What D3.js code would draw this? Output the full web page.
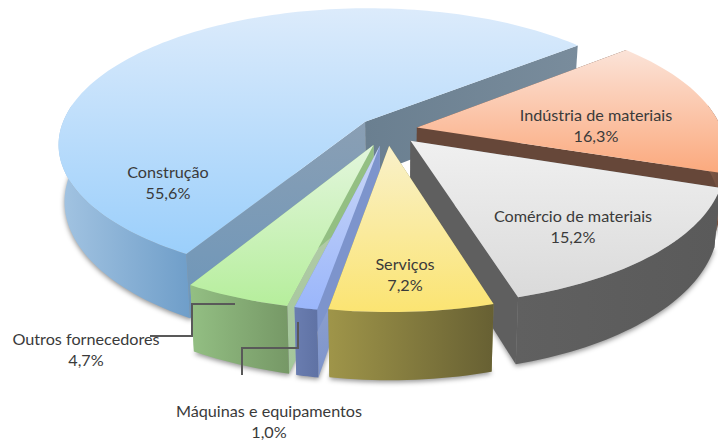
<!DOCTYPE html>
<html>
<head>
<meta charset="utf-8">
<script src="https://cdn.jsdelivr.net/npm/d3@7"></script>
<style>
  html, body { margin: 0; padding: 0; background: #fff; overflow: hidden; }
  text { font-family: Lato, "Open Sans", sans-serif; font-size: 16.2px; fill: #3a3a3a; text-anchor: middle; }
</style>
</head>
<body>
<div id="chart"></div>
<script>
// drawn clockwise starting from the orange slice
const categories = ["Indústria de materiais", "Comércio de materiais", "Serviços", "Máquinas e equipamentos", "Outros fornecedores", "Construção"];
const shares = [16.3, 15.2, 7.2, 1.0, 4.7, 55.6];
const explode = [0.10, 0.11, 0.115, 0.118, 0.118, 0.095];

const topColours = [["#fbe3d8", "#fba97d"], ["#f0f0f0", "#dadada"], ["#f9f1ca", "#fbe472"], ["#cbd7f6", "#9ab6fb"], ["#e3f6dd", "#b6ee9c"], ["#dcebfb", "#9bcffb"]];
const outerColours = [["#8a5f4a", "#664739"], ["#606060", "#5a5a5a"], ["#9f9549", "#676033"], ["#6a7db0", "#5f72a4"], ["#93bf83", "#769866"], ["#a3c4e2", "#6f9ec9"]];
const startEdgeColours = [["#664739", "#664739"], ["#5f5f5f", "#5f5f5f"], ["#8a8a50", "#8a8a50"], ["#aab6d0", "#7d94cc"], ["#b8ccae", "#a3c79a"], ["#8a9fb4", "#6c96ba"]];
const endEdgeColours = [["#664739", "#664739"], ["#5f5f5f", "#5f5f5f"], ["#8a8a50", "#8a8a50"], ["#7d94cc", "#7d94cc"], ["#93bf83", "#93bf83"], ["#6a7f90", "#798c9c"]];

const labelX = [596, 573, 405, 269, 86, 168];
const labelY = [121, 222, 270, 417, 345, 178];

const leaders = [
  [[235, 304], [192, 304], [192, 336], [150, 336]],
  [[298, 322], [298, 348], [242, 348], [242, 375]]
];

const width = 718, height = 441;
const cx = 387, cy = 130;      // pie centre on screen
const radius = 305, squash = 0.44, persp = 0.16;
const depth = 56, taper = 0.018;

// pie plane -> screen, h=0 top face, h=1 bottom face
function project(x, y, h) {
  const p = 1 / (1 - persp * y);
  return [cx + x * radius * p * (1 - taper * h), cy + squash * radius * y * p + depth * p * h];
}

const svg = d3.select("#chart").append("svg")
  .attr("width", width).attr("height", height)
  .style("display", "block");
const defs = svg.append("defs");

defs.append("filter").attr("id", "soft")
  .attr("x", "-10%").attr("y", "-10%").attr("width", "120%").attr("height", "120%")
  .append("feGaussianBlur").attr("stdDeviation", 2.5);

function gradient(id, colours, vertical) {
  const g = defs.append("linearGradient").attr("id", id)
    .attr("x1", 0).attr("y1", 0)
    .attr("x2", vertical ? 0 : 1).attr("y2", vertical ? 1 : 0);
  g.append("stop").attr("offset", 0).attr("stop-color", colours[0]);
  g.append("stop").attr("offset", 1).attr("stop-color", colours[1]);
  return `url(#${id})`;
}

const pie = d3.pie().sort(null)
  .startAngle(50.2 * Math.PI / 180)
  .endAngle((50.2 + 360) * Math.PI / 180);
const arcs = pie(shares);
const line = d3.line();

const slices = arcs.map((a, i) => {
  const mid = (a.startAngle + a.endAngle) / 2;
  const ox = Math.sin(mid) * explode[i];
  const oy = -Math.cos(mid) * explode[i];
  const steps = Math.max(6, Math.ceil((a.endAngle - a.startAngle) * 40));
  const rim = d3.range(steps + 1).map(s => {
    const t = a.startAngle + (a.endAngle - a.startAngle) * s / steps;
    return [ox + Math.sin(t), oy - Math.cos(t)];
  });
  return { i, apex: [ox, oy], rim };
});

const at = h => d => project(d[0], d[1], h);
const flat = s => s.rim.filter(d => d[1] > -0.2).map(at(1)).concat([at(1)(s.apex)]);

// soft shadow under the whole pie
svg.append("g").attr("filter", "url(#soft)")
  .selectAll("path")
  .data(slices)
  .join("path")
  .attr("d", s => line(flat(s).map(d => [d[0], d[1] + 2])) + "Z")
  .attr("fill", "#000")
  .attr("opacity", 0.42);

// back to front
const order = [5, 0, 1, 4, 3, 2];
order.forEach(idx => {
  const s = slices[idx];
  const g = svg.append("g").attr("class", "slice").attr("data-name", categories[idx]);
  const first = s.rim[0], last = s.rim[s.rim.length - 1];
  const front = s.rim.filter(d => d[1] > -0.2);   // back of the rim can't be seen

  // radial walls
  g.append("path")
    .attr("d", line([s.apex, first].map(at(0)).concat([first, s.apex].map(at(1)))) + "Z")
    .attr("fill", gradient("wallStart" + idx, startEdgeColours[idx], true));
  g.append("path")
    .attr("d", line([s.apex, last].map(at(0)).concat([last, s.apex].map(at(1)))) + "Z")
    .attr("fill", gradient("wallEnd" + idx, endEdgeColours[idx], false));
  // outer wall
  g.append("path")
    .attr("d", line(front.map(at(0)).concat(front.slice().reverse().map(at(1)))) + "Z")
    .attr("fill", gradient("outer" + idx, outerColours[idx], false));
  // top face
  g.append("path")
    .attr("d", line([at(0)(s.apex)].concat(s.rim.map(at(0)))) + "Z")
    .attr("fill", gradient("top" + idx, topColours[idx], true));
});

// leader lines of the two outside labels
svg.append("g").selectAll("path")
  .data(leaders)
  .join("path")
  .attr("d", line)
  .attr("fill", "none")
  .attr("stroke", "#595959")
  .attr("stroke-width", 2);

const labels = svg.append("g").selectAll("text")
  .data(categories)
  .join("text")
  .attr("x", (d, i) => labelX[i])
  .attr("y", (d, i) => labelY[i]);
labels.append("tspan").text(d => d);
labels.append("tspan")
  .attr("x", (d, i) => labelX[i])
  .attr("dy", 21)
  .text((d, i) => shares[i].toFixed(1).replace(".", ",") + "%");
</script>
</body>
</html>
